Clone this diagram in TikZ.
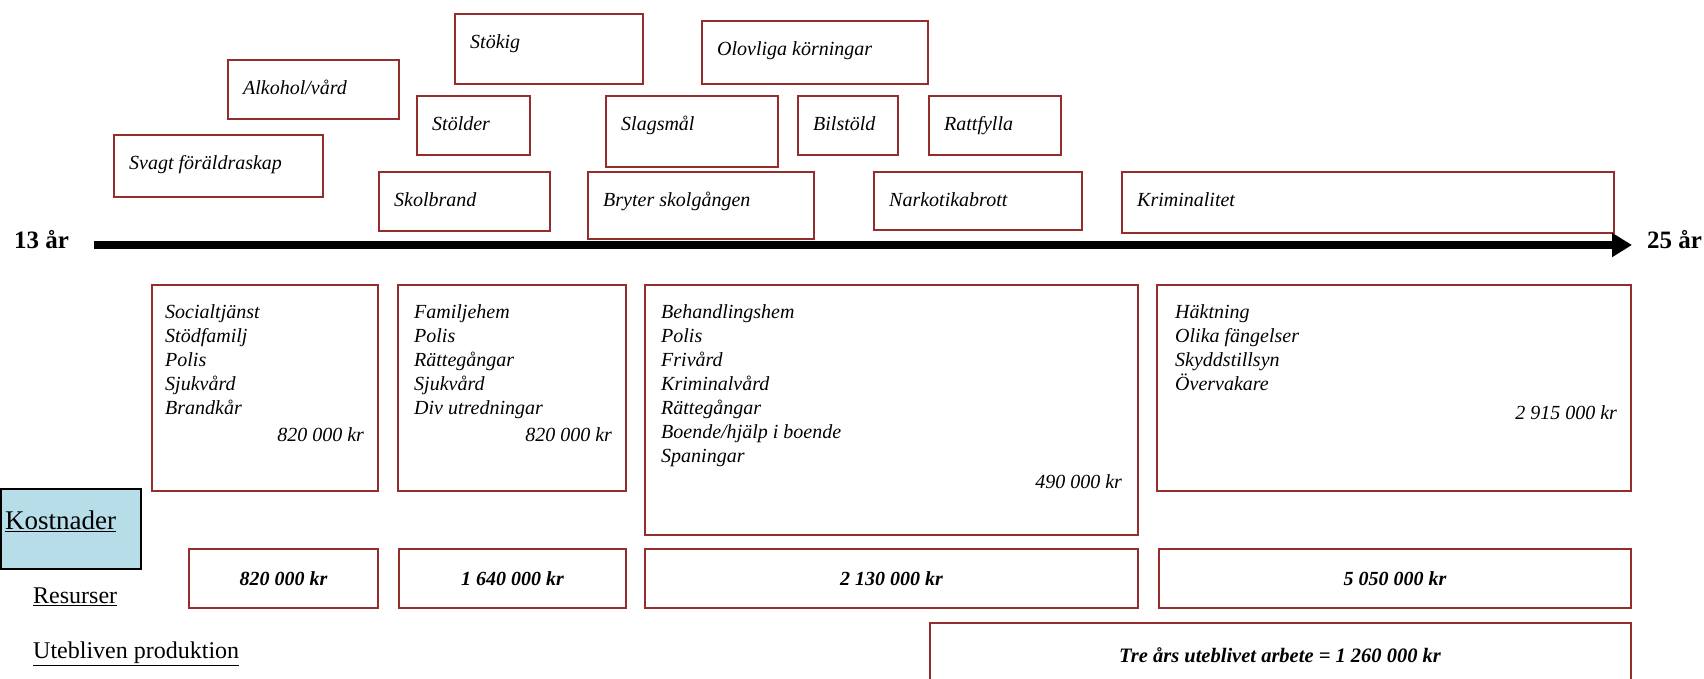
\documentclass[tikz,border=0pt]{standalone}
\usepackage{fontspec}
\setmainfont{Liberation Serif}
\usetikzlibrary{arrows.meta}
\definecolor{boxred}{RGB}{150,45,45}
\definecolor{kostblue}{RGB}{183,221,232}
\newcommand\tbox[6]{%
  \node[box,minimum width=#4,minimum height=#5] (#1) at (#2,#3) {};
  \node[lbl] (#1t) at ([xshift=16pt,yshift=-35pt]#1.north west) {#6};}
\begin{document}
\begin{tikzpicture}[x=1pt,y=-1pt,
  box/.style={draw=boxred,line width=2.2pt,anchor=north west,inner sep=0pt},
  lbl/.style={font=\fontsize{20}{24}\selectfont\itshape,anchor=base west,inner sep=0pt},
  amt/.style={font=\fontsize{20}{24}\selectfont\itshape,anchor=base east,inner sep=0pt},
  sum/.style={box,font=\fontsize{20}{24}\selectfont\bfseries\itshape},
  side/.style={font=\fontsize{24}{28}\selectfont,anchor=west,inner sep=0pt},
  yr/.style={font=\fontsize{25}{30}\selectfont\bfseries,anchor=west,inner sep=0pt}]
\useasboundingbox (0,0) rectangle (1704,678);
\clip (0,0) rectangle (1704,678);

% top events
\tbox{svagt}{113}{134}{209}{62}{Svagt föräldraskap}
\tbox{alkohol}{227}{59}{171}{59}{Alkohol/vård}
\tbox{stokig}{454}{13}{188}{70}{Stökig}
\tbox{stolder}{416}{95}{113}{59}{Stölder}
\tbox{skolbrand}{378}{171}{171}{59}{Skolbrand}
\tbox{olovliga}{701}{20}{226}{63}{Olovliga körningar}
\tbox{slagsmal}{605}{95}{172}{71}{Slagsmål}
\tbox{bilstold}{797}{95}{100}{59}{Bilstöld}
\tbox{rattfylla}{928}{95}{132}{59}{Rattfylla}
\tbox{bryter}{587}{171}{226}{67}{Bryter skolgången}
\tbox{narkotika}{873}{171}{208}{58}{Narkotikabrott}
\tbox{krim}{1121}{171}{492}{61}{Kriminalitet}

% time axis
\node[yr] (y13) at (14,240) {13 år};
\node[yr] (y25) at (1647,240) {25 år};
\coordinate (as) at (94,245);
\coordinate (ae) at (1632,245);
\draw[line width=8pt,-{Triangle[length=20pt,width=23pt]}] (as) -- (ae);

% cost boxes
\node[box,minimum width=226,minimum height=206] (b1) at (151,284) {};
\node[box,minimum width=228,minimum height=206] (b2) at (397,284) {};
\node[box,minimum width=493,minimum height=250] (b3) at (644,284) {};
\node[box,minimum width=474,minimum height=206] (b4) at (1156,284) {};
\foreach \t [count=\i from 0] in {Socialtjänst,Stödfamilj,Polis,Sjukvård,Brandkår}
  \node[lbl] (b1l\i) at ([xshift=14pt,yshift={-34pt-24pt*\i}]b1.north west) {\t};
\foreach \t [count=\i from 0] in {Familjehem,Polis,Rättegångar,Sjukvård,Div utredningar}
  \node[lbl] (b2l\i) at ([xshift=17pt,yshift={-34pt-24pt*\i}]b2.north west) {\t};
\foreach \t [count=\i from 0] in {Behandlingshem,Polis,Frivård,Kriminalvård,Rättegångar,Boende/hjälp i boende,Spaningar}
  \node[lbl] (b3l\i) at ([xshift=17pt,yshift={-34pt-24pt*\i}]b3.north west) {\t};
\foreach \t [count=\i from 0] in {Häktning,Olika fängelser,Skyddstillsyn,Övervakare}
  \node[lbl] (b4l\i) at ([xshift=19pt,yshift={-34pt-24pt*\i}]b4.north west) {\t};
\node[amt] (b1a) at ([xshift=-15pt,yshift=-157pt]b1.north east) {820 000 kr};
\node[amt] (b2a) at ([xshift=-15pt,yshift=-157pt]b2.north east) {820 000 kr};
\node[amt] (b3a) at ([xshift=-17pt,yshift=-204pt]b3.north east) {490 000 kr};
\node[amt] (b4a) at ([xshift=-15pt,yshift=-135pt]b4.north east) {2 915 000 kr};

% sums
\node[sum,minimum width=189,minimum height=59] (r1) at (188,548) {820 000 kr};
\node[sum,minimum width=227,minimum height=59] (r2) at (398,548) {1 640 000 kr};
\node[sum,minimum width=493,minimum height=59] (r3) at (644,548) {2 130 000 kr};
\node[sum,minimum width=472,minimum height=59] (r4) at (1158,548) {5 050 000 kr};
\node[box,minimum width=701,minimum height=70] (tre) at (929,622) {};
\node[font=\fontsize{20.5}{24}\selectfont\bfseries\itshape,inner sep=0pt] (tret) at (1280,655) {Tre års uteblivet arbete = 1 260 000 kr};

% left labels
\node[draw=black,line width=1.5pt,fill=kostblue,anchor=north west,minimum width=140,minimum height=80,inner sep=0pt] (kost) at (0,488) {};
\node[font=\fontsize{27}{32}\selectfont,anchor=west,inner sep=0pt] (kostt) at (5,521) {\underline{Kostnader}};
\node[side] (res) at (33,597) {\underline{Resurser}};
\node[side] (ute) at (33,654) {\underline{Utebliven produktion}};
\end{tikzpicture}
\end{document}
